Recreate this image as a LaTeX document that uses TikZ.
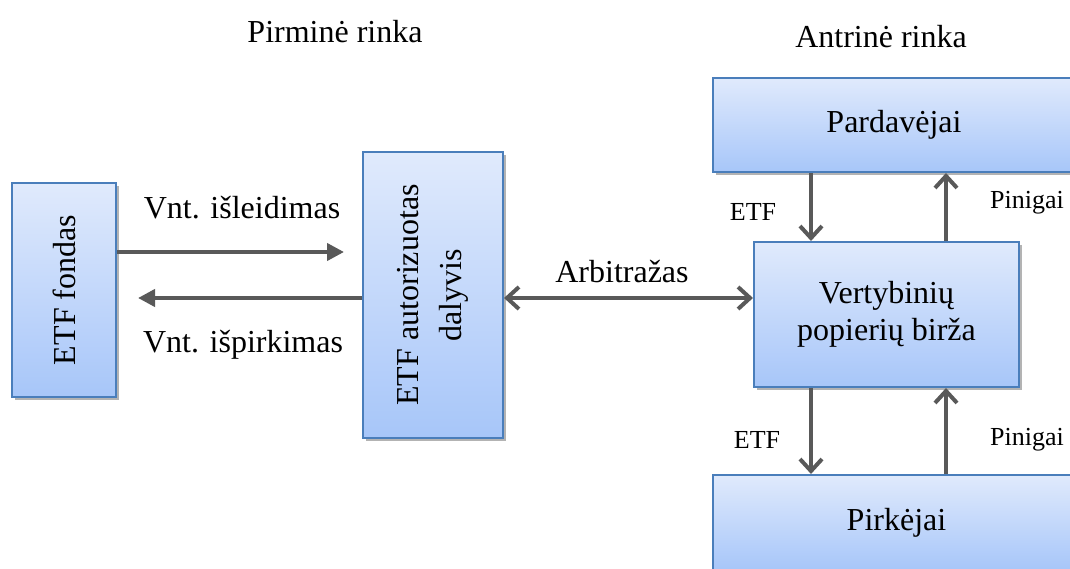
\documentclass[tikz,border=0pt]{standalone}
\usepackage{fontspec}
\usepackage{graphicx}
\setmainfont{Liberation Serif}
\usetikzlibrary{arrows.meta,shadows,calc}
\definecolor{boxtop}{HTML}{E0EAFC}
\definecolor{boxbot}{HTML}{A7C6F9}
\definecolor{boxline}{HTML}{4A7EBB}
\definecolor{arrcol}{HTML}{595959}
\begin{document}
\begin{tikzpicture}[x=1pt,y=-1pt,
  box/.style={draw=boxline, line width=2pt, top color=boxtop, bottom color=boxbot,
    inner sep=0pt, align=center, font=\fontsize{32}{37}\selectfont,
    drop shadow={shadow xshift=2.5pt,shadow yshift=-3pt,opacity=0.4,fill=black!75}},
  big/.style={font=\fontsize{32}{37}\selectfont, inner sep=0pt},
  small/.style={font=\fontsize{26}{30}\selectfont, inner sep=0pt},
  conn/.style={draw=arrcol, line width=4pt},
  tri/.style={conn, -{Triangle[length=17pt,width=17pt]}},
  barb/.style={conn, -{Straight Barb[length=12pt,width=22pt]}},
  dbarb/.style={conn, {Straight Barb[length=12pt,width=22pt]}-{Straight Barb[length=12pt,width=22pt]}}
]
\useasboundingbox (0,0) rectangle (1070,569);
\clip (0,0) rectangle (1070,569);

% titles
\node[big] (t1) at (335,32) {Pirminė rinka};
\node[big] (t2) at (881,37) {Antrinė rinka};

% boxes
\node[box, minimum width=104pt, minimum height=214pt] (fond) at (64,290)
  {\rotatebox{90}{ETF fondas}};
\node[box, minimum width=140pt, minimum height=286pt] (auth) at (433,295)
  {\rotatebox{90}{\begin{tabular}{@{}c@{}}ETF autorizuotas\\[6pt]dalyvis\end{tabular}}};
\node[box, minimum width=362pt, minimum height=94pt] (sell) at (894,125) {Pardavėjai};
\node[box, minimum width=265pt, minimum height=145pt] (exch) at (886.5,314.5)
  {Vertybinių\\popierių birža};
\node[box, minimum width=367pt, minimum height=95pt] (buy) at (896.5,522.5) {Pirkėjai};

% helper coordinates
\coordinate (ya) at (0,252);
\coordinate (yb) at (0,298);
\coordinate (xa) at (811,0);
\coordinate (xb) at (946,0);

% left arrows
\draw[tri, shorten >=18pt] (fond.east |- ya) -- (auth.west |- ya);
\draw[tri, shorten >=21pt] (auth.west |- yb) -- (fond.east |- yb);
\node[big] (l1) at (242,208) {Vnt. išleidimas};
\node[big] (l2) at (243,345) {Vnt. išpirkimas};

% arbitrage
\draw[dbarb] (auth.east |- yb) -- (exch.west |- yb);
\node[big] (l3) at (622,272) {Arbitražas};

% secondary market arrows
\draw[barb] (sell.south -| xa) -- (exch.north -| xa);
\draw[barb] (exch.north -| xb) -- (sell.south -| xb);
\draw[barb] (exch.south -| xa) -- (buy.north -| xa);
\draw[barb] (buy.north -| xb) -- (exch.south -| xb);

\node[small] (e1) at (753,212) {ETF};
\node[small] (p1) at (1027,203) {Pinigai};
\node[small] (e2) at (757,440) {ETF};
\node[small] (p2) at (1027,440) {Pinigai};
\end{tikzpicture}
\end{document}
